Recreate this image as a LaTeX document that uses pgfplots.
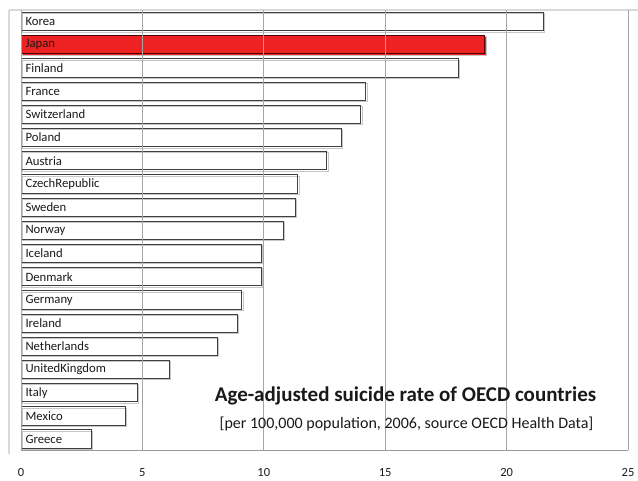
\documentclass[border=0pt]{standalone}
\usepackage{pgfplots}
\pgfplotsset{compat=1.18}
\usepackage{fontspec}
\setmainfont{Carlito}

\pgfplotstableread{
idx rate
0  2.9
1  4.3
2  4.8
3  6.1
4  8.1
5  8.9
6  9.1
7  9.9
8  9.9
9  10.8
10 11.3
11 11.4
12 12.6
13 13.2
14 14.0
15 14.2
16 18.0
18 21.5
}\others

\pgfplotstableread{
idx rate
17 19.1
}\japan

\definecolor{barred}{HTML}{EE2222}
\definecolor{gridgray}{HTML}{A6A6A6}

\begin{document}
\begin{tikzpicture}[x=1pt,y=1pt]
\useasboundingbox (0,0) rectangle (638,481);
% outer chart frame
\draw[gray!30, line width=1.4pt] (9,471) -- (638,471);
\draw[gray!30, line width=1.4pt] (9,471) -- (9,27);
\begin{axis}[
  at={(21pt,31pt)}, anchor=south west,
  scale only axis, width=607pt, height=440pt,
  axis on top,
  xbar, bar shift=0pt, bar width=18.3pt,
  xmin=0, xmax=25, ymin=-0.47, ymax=18.5,
  xtick={0,5,...,25},
  ytick={0,...,18},
  yticklabels={Greece,Mexico,Italy,UnitedKingdom,Netherlands,Ireland,Germany,Denmark,Iceland,Norway,Sweden,CzechRepublic,Austria,Poland,Switzerland,France,Finland,Japan,Korea},
  axis x line*=bottom, axis y line*=left,
  x axis line style={draw=gray!80, line width=0.8pt, -},
  y axis line style={draw=none},
  major tick length=0pt,
  xmajorgrids, major grid style={gridgray, line width=0.8pt},
  /pgf/number format/assume math mode=true,
  tick label style={text=black!90},
  yticklabel style={font=\fontsize{12.7}{15}\selectfont, anchor=west, xshift=1pt},
  xticklabel style={font=\fontsize{12.5}{15}\selectfont, yshift=-15pt},
  bar shadow/.style={preaction={draw=gray!45, line width=1pt,
      transform canvas={xshift=1.3pt, yshift=-1.3pt}}},
]
\addplot[draw=black!75, fill=none, line width=0.9pt, bar shadow] table[x=rate, y=idx] {\others};
\addplot[draw=black!70!red, fill=barred, line width=0.9pt, bar shadow] table[x=rate, y=idx] {\japan};
\end{axis}
\node[font=\fontsize{21}{25}\selectfont\bfseries, text=black!90] at (405.5,85) {Age-adjusted suicide rate of OECD countries};
\node[font=\fontsize{16}{19}\selectfont, text=black!90] at (406.5,57) {[per 100,000 population, 2006, source OECD Health Data]};
\end{tikzpicture}
\end{document}
